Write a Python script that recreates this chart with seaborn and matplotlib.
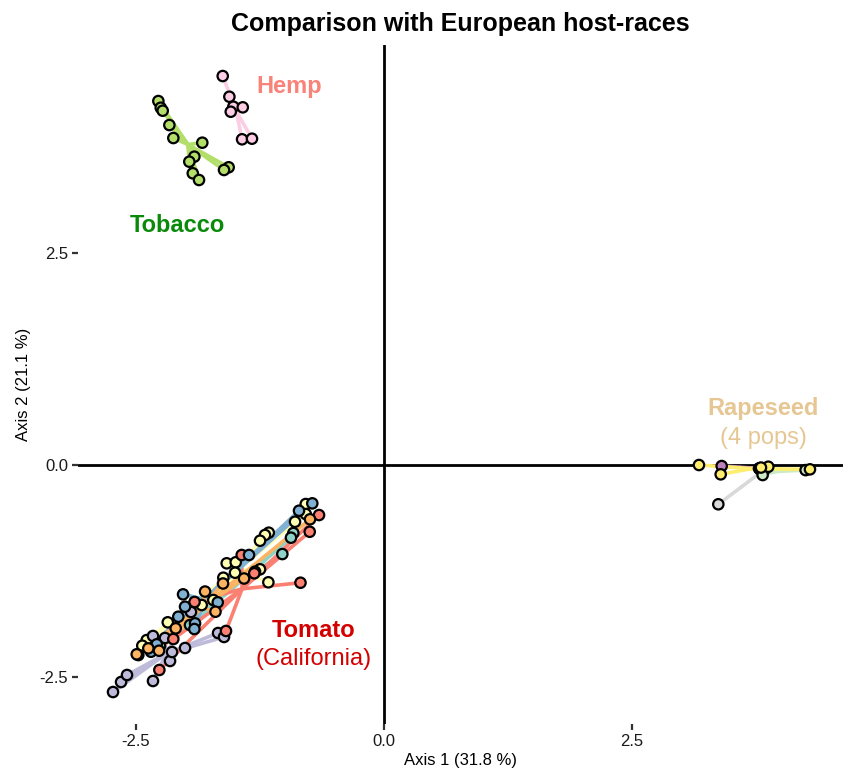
import matplotlib
matplotlib.use("Agg")
import matplotlib.pyplot as plt
import pandas as pd
import seaborn as sns

# ---- population scores on the first two axes -------------------------------
# Tomato (California), six populations
tom1_x = [-0.914, -0.938, -1.025, -1.956, -2.258]
tom1_y = [-0.802, -0.857, -1.050, -1.887, -2.134]

tom2_x = [-0.789, -0.789, -0.897, -1.162, -1.200, -1.250, -1.586, -1.495, -1.502,
          -1.250, -1.300, -1.166, -1.620, -1.721, -1.838, -2.180, -2.392, -2.437]
tom2_y = [-0.460, -0.578, -0.669, -0.798, -0.825, -0.893, -1.159, -1.147, -1.270,
          -1.230, -1.258, -1.383, -1.329, -1.592, -1.651, -1.855, -2.064, -2.131]

tom3_x = [-2.732, -2.651, -2.591, -2.329, -2.329, -2.208, -1.946, -2.157, -2.137,
          -2.006, -1.673, -1.613]
tom3_y = [-2.677, -2.559, -2.476, -2.547, -2.016, -2.040, -1.733, -2.311, -2.205,
          -2.158, -1.981, -2.028]

tom4_x = [-0.655, -0.749, -0.842, -1.308, -1.435, -1.910, -2.124, -2.265, -1.593]
tom4_y = [-0.590, -0.787, -1.388, -1.277, -1.061, -1.615, -2.052, -2.417, -1.957]

tom5_x = [-0.723, -0.857, -1.361, -2.026, -2.006, -1.676, -2.074, -1.905, -1.912,
          -2.291, -2.349, -2.477]
tom5_y = [-0.452, -0.539, -1.061, -1.525, -1.671, -1.619, -1.789, -1.867, -1.934,
          -2.114, -2.202, -2.241]

tom6_x = [-0.746, -1.411, -1.623, -1.804, -1.699, -2.100, -2.376, -2.268, -2.493]
tom6_y = [-0.640, -1.338, -1.397, -1.492, -1.730, -1.926, -2.162, -2.190, -2.232]

# Tobacco and hemp host-races
tob_x = [-2.275, -2.251, -2.231, -2.164, -2.124, -1.832, -1.912, -1.963, -1.566,
         -1.613, -1.928, -1.865]
tob_y = [4.292, 4.213, 4.178, 4.009, 3.856, 3.801, 3.636, 3.577, 3.511, 3.479,
         3.440, 3.361]

hemp_x = [-1.626, -1.559, -1.519, -1.545, -1.424, -1.431, -1.331]
hemp_y = [4.587, 4.343, 4.225, 4.166, 4.218, 3.841, 3.848]

# Rapeseed, four populations
rap1_x = [3.370, 3.840]
rap1_y = [-0.463, -0.050]
rap2_x = [3.404, 3.780]
rap2_y = [-0.012, -0.040]
rap3_x = [3.790, 3.817, 4.250]
rap3_y = [-0.051, -0.118, -0.060]
rap4_x = [3.175, 3.394, 3.874, 4.294, 3.800]
rap4_y = [0.000, -0.110, -0.020, -0.051, -0.030]

pop_names = ["Tomato 1", "Tomato 2", "Tomato 3", "Tomato 4", "Tomato 5", "Tomato 6",
             "Tobacco", "Hemp", "Rapeseed 1", "Rapeseed 2", "Rapeseed 3", "Rapeseed 4"]
pop_x = [tom1_x, tom2_x, tom3_x, tom4_x, tom5_x, tom6_x, tob_x, hemp_x,
         rap1_x, rap2_x, rap3_x, rap4_x]
pop_y = [tom1_y, tom2_y, tom3_y, tom4_y, tom5_y, tom6_y, tob_y, hemp_y,
         rap1_y, rap2_y, rap3_y, rap4_y]

tick_values = [-2.5, 0.0, 2.5]
tick_labels = ["-2.5", "0.0", "2.5"]

df = pd.concat(
    [pd.DataFrame({"Axis1": xs, "Axis2": ys, "pop": name})
     for name, xs, ys in zip(pop_names, pop_x, pop_y)],
    ignore_index=True,
)
palette = dict(zip(pop_names, sns.color_palette("Set3", len(pop_names))))

# ---- figure -----------------------------------------------------------------
sns.set_theme(style="white")
plt.rcParams["font.family"] = ["Liberation Sans", "DejaVu Sans"]
plt.rcParams["text.color"] = "black"
plt.rcParams["axes.labelcolor"] = "black"

fig = plt.figure(figsize=(8.43, 7.69), dpi=100)
ax = fig.add_axes([78 / 843, 45 / 769, (843 - 78) / 843, (724 - 45) / 769])

ax.axhline(0, color="black", lw=2.0, zorder=1)
ax.axvline(0, color="black", lw=2.0, zorder=1)

# star segments from each population centroid to its individuals
centroids = df.groupby("pop")[["Axis1", "Axis2"]].mean()
for row in df.itertuples():
    cx, cy = centroids.loc[row.pop]
    ax.plot([cx, row.Axis1], [cy, row.Axis2], color=palette[row.pop],
            lw=2.6, solid_capstyle="round", zorder=2)

sns.scatterplot(data=df, x="Axis1", y="Axis2", hue="pop", palette=palette,
                s=56, edgecolor="black", linewidth=1.6, legend=False,
                zorder=3, ax=ax)

# host-race labels
ax.text(-0.958, 4.469, "Hemp", color="#F88379", fontsize=17, fontweight="bold",
        ha="center", va="center")
ax.text(-2.087, 2.830, "Tobacco", color="#0A8A0A", fontsize=17, fontweight="bold",
        ha="center", va="center")
ax.text(3.821, 0.672, "Rapeseed", color="#E6C793", fontsize=17, fontweight="bold",
        ha="center", va="center")
ax.text(3.821, 0.318, "(4 pops)", color="#E6C793", fontsize=17,
        ha="center", va="center")
ax.text(-0.706, -1.946, "Tomato", color="#D40000", fontsize=17, fontweight="bold",
        ha="center", va="center")
ax.text(-0.706, -2.288, "(California)", color="#D40000", fontsize=17,
        ha="center", va="center")

ax.set_xlim(-3.085, 4.627)
ax.set_ylim(-3.054, 4.953)
for side in ax.spines.values():
    side.set_visible(False)

ax.set_xticks(tick_values, tick_labels)
ax.set_yticks(tick_values, tick_labels)
ax.tick_params(axis="both", which="major", length=4, width=1.6, color="#333333",
               labelsize=12, labelcolor="#1a1a1a", pad=3,
               bottom=True, left=True)

ax.set_xlabel("Axis 1 (31.8 %)", fontsize=12, labelpad=3)
ax.set_ylabel("Axis 2 (21.1 %)", fontsize=12, labelpad=6)
ax.set_title("Comparison with European host-races", fontsize=18,
             fontweight="bold", color="black", pad=10)

fig.savefig("out.png", dpi=100)
